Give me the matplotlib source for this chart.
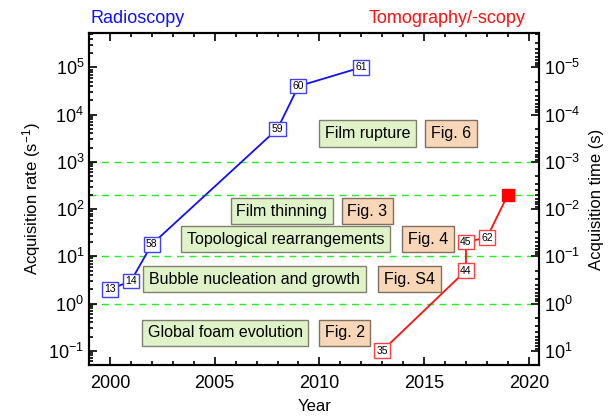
import numpy as np
import matplotlib
matplotlib.use("Agg")
import matplotlib.pyplot as plt
from matplotlib.ticker import MultipleLocator, LogLocator, NullFormatter

plt.rcParams['font.family'] = ['Liberation Sans', 'DejaVu Sans']
plt.rcParams['mathtext.fontset'] = 'custom'
plt.rcParams['mathtext.rm'] = 'Liberation Sans'
plt.rcParams['mathtext.it'] = 'Liberation Sans:italic'
plt.rcParams['mathtext.bf'] = 'Liberation Sans:bold'

# radioscopy (reference number, year, rate)
radio_refs = ["13", "14", "58", "59", "60", "61"]
radio_year = [2000, 2001, 2002, 2008, 2009, 2012]
radio_rate = [2.0, 3.0, 18, 5000, 40000, 100000]

# tomography / tomoscopy
tomo_refs = ["35", "44", "45", "62"]
tomo_year = [2013, 2017, 2017, 2018]
tomo_rate = [0.1, 5.0, 20, 25]
tomo_new_year = 2019
tomo_new_rate = 200

# green dashed thresholds
levels = [1e3, 200, 1e1, 1e0]

# phenomenon boxes: text, year, rate, figure label, year of figure label
phenomena = ["Film rupture", "Film thinning", "Topological rearrangements",
             "Bubble nucleation and growth", "Global foam evolution"]
phen_x = [2012.3, 2008.2, 2008.4, 2006.9, 2005.5]
phen_y = [4000, 90, 23, 3.3, 0.24]
figs = ["Fig. 6", "Fig. 3", "Fig. 4", "Fig. S4", "Fig. 2"]
fig_x = [2016.3, 2012.3, 2015.2, 2014.3, 2011.2]

fig = plt.figure(figsize=(6.1, 4.2), dpi=100)
ax = fig.add_axes([0.146, 0.131, 0.738, 0.790])

ax.set_yscale("log")
ax.set_xlim(1999.0, 2020.5)
ymin, ymax = 0.05, 5.3e5
ax.set_ylim(ymin, ymax)

for lv in levels:
    ax.axhline(lv, color="#22ee22", ls=(0, (5, 4)), lw=1.0, zorder=1)

ax.plot(radio_year, radio_rate, color="#1010ff", lw=1.3, zorder=2)
ax.plot(tomo_year + [tomo_new_year], tomo_rate + [tomo_new_rate],
        color="#ff1010", lw=1.3, zorder=2)
ax.plot([tomo_new_year], [tomo_new_rate], marker="s", ms=9,
        color="#ff0000", ls="none", zorder=4)

for r, x, y in zip(radio_refs, radio_year, radio_rate):
    ax.text(x, y, r, fontsize=7.5, ha="center", va="center", zorder=5,
            bbox=dict(boxstyle="square,pad=0.22", fc="white", ec="#4040ff", lw=1.0))
for r, x, y in zip(tomo_refs, tomo_year, tomo_rate):
    ax.text(x, y, r, fontsize=7.5, ha="center", va="center", zorder=5,
            bbox=dict(boxstyle="square,pad=0.22", fc="white", ec="#ff4040", lw=1.0))

for t, x, y, f, fx in zip(phenomena, phen_x, phen_y, figs, fig_x):
    ax.text(x, y, t, fontsize=11.5, ha="center", va="center", zorder=3,
            bbox=dict(boxstyle="square,pad=0.36", fc="#e0f3c8", ec="#808070", lw=1.0))
    ax.text(fx, y, f, fontsize=11.5, ha="center", va="center", zorder=3,
            bbox=dict(boxstyle="square,pad=0.36", fc="#f8d6b8", ec="#807060", lw=1.0))

ax.xaxis.set_major_locator(MultipleLocator(5))
ax.xaxis.set_minor_locator(MultipleLocator(1))
ax.yaxis.set_major_locator(LogLocator(base=10, numticks=20))
ax.yaxis.set_minor_locator(LogLocator(base=10, subs=np.arange(2, 10), numticks=20))
ax.yaxis.set_minor_formatter(NullFormatter())
ax.tick_params(which="both", direction="in", top=True, labelsize=13, width=1.2)
ax.tick_params(which="major", length=6)
ax.tick_params(which="minor", length=3)
ax.tick_params(axis="x", pad=7)
for s in ax.spines.values():
    s.set_linewidth(1.5)

ax.set_xlabel("Year", fontsize=12, labelpad=5)
ax.set_ylabel("Acquisition rate (s$^{-1}$)", fontsize=12, labelpad=4)

# acquisition time axis = 1 / rate
ax2 = ax.twinx()
ax2.set_yscale("log")
ax2.set_ylim(1 / ymin, 1 / ymax)
ax2.yaxis.set_major_locator(LogLocator(base=10, numticks=20))
ax2.yaxis.set_minor_locator(LogLocator(base=10, subs=np.arange(2, 10), numticks=20))
ax2.yaxis.set_minor_formatter(NullFormatter())
ax2.tick_params(which="both", direction="in", labelsize=13, width=1.2)
ax2.tick_params(which="major", length=6)
ax2.tick_params(which="minor", length=3)
ax2.set_ylabel("Acquisition time (s)", fontsize=12, labelpad=6)
for s in ax2.spines.values():
    s.set_linewidth(1.5)

fig.text(0.148, 0.955, "Radioscopy", color="#1010ff", fontsize=13, ha="left", va="center")
fig.text(0.862, 0.955, "Tomography/-scopy", color="#ff1010", fontsize=13, ha="right", va="center")

fig.savefig("out.png", dpi=100)
